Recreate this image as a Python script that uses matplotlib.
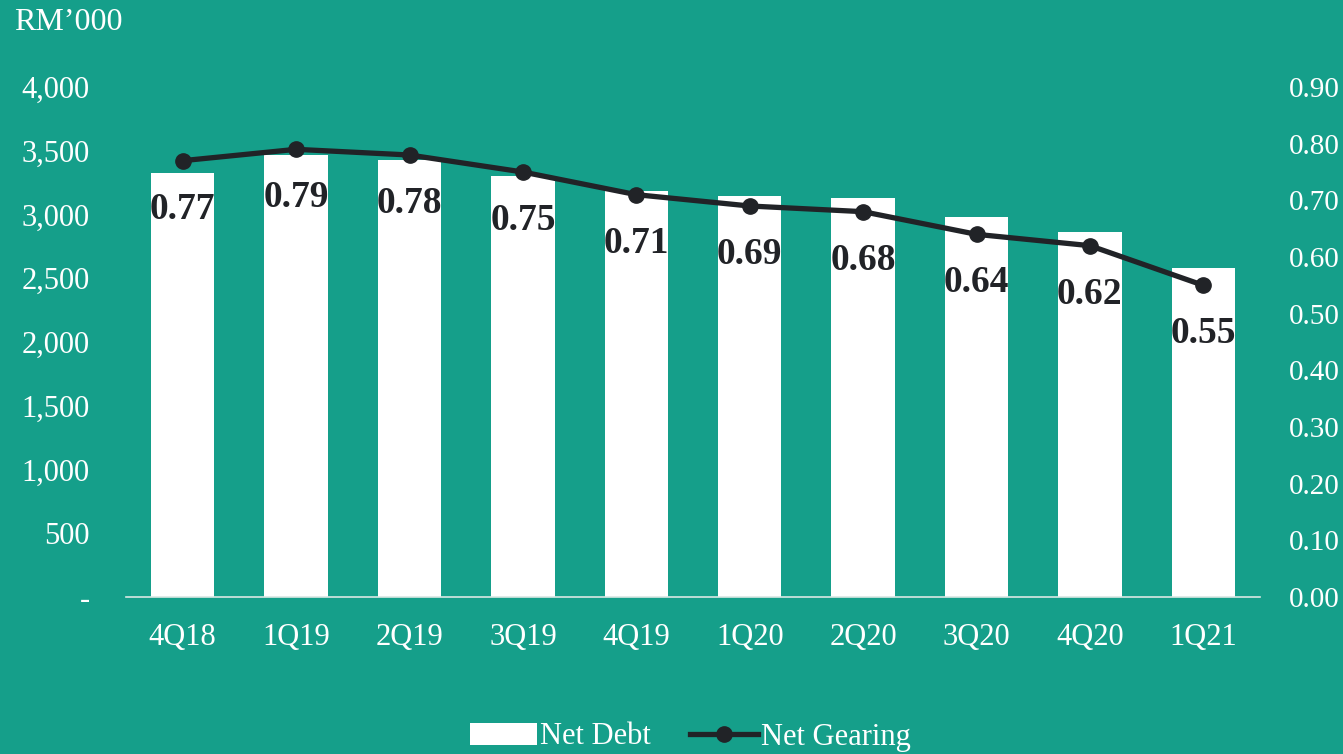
import matplotlib.pyplot as plt
import numpy as np

quarters = ['4Q18', '1Q19', '2Q19', '3Q19', '4Q19', '1Q20', '2Q20', '3Q20', '4Q20', '1Q21']
net_debt = [3325, 3467, 3427, 3302, 3184, 3145, 3129, 2980, 2863, 2580]
net_gearing = [0.77, 0.79, 0.78, 0.75, 0.71, 0.69, 0.68, 0.64, 0.62, 0.55]

bg = '#159f8a'
dark = '#212327'

plt.rcParams['font.family'] = ['Liberation Serif', 'DejaVu Serif']

fig = plt.figure(figsize=(13.43, 7.54), dpi=100, facecolor=bg)
ax = fig.add_axes([126 / 1343, 1 - 597 / 754, 1134 / 1343, 510 / 754])
ax.set_facecolor(bg)
x = np.arange(len(quarters))

bars = ax.bar(x, net_debt, width=0.56, color='white', label='Net Debt', zorder=2)
ax.set_xlim(-0.5, len(quarters) - 0.5)
ax.set_ylim(0, 4000)
ax.set_yticks(np.arange(0, 4001, 500))
ax.set_yticklabels(['-'] + [f'{v:,}' for v in range(500, 4001, 500)])
ax.set_xticks(x)
ax.set_xticklabels(quarters)
ax.tick_params(axis='y', length=0, pad=26, labelsize=22, labelcolor='white')
ax.tick_params(axis='x', length=0, pad=19, labelsize=22, labelcolor='white')
for s in ['top', 'right', 'left']:
    ax.spines[s].set_visible(False)
ax.spines['bottom'].set_color('#d9e8e4')
ax.spines['bottom'].set_linewidth(1.2)

ax2 = ax.twinx()
ax2.set_ylim(0, 0.9)
ax2.set_yticks(np.arange(0, 0.91, 0.1))
ax2.set_yticklabels([f'{v:.2f}' for v in np.arange(0, 0.91, 0.1)])
ax2.tick_params(axis='y', length=0, pad=21, labelsize=21, labelcolor='white')
for s in ax2.spines.values():
    s.set_visible(False)
line, = ax2.plot(x, net_gearing, color=dark, lw=3.8, marker='o', ms=11,
                 label='Net Gearing', zorder=3)
for xi, g in zip(x, net_gearing):
    ax2.annotate(f'{g:.2f}', (xi, g), xytext=(0, -35), textcoords='offset points',
                 ha='center', va='center', fontsize=27, fontweight='bold', color=dark)

fig.text(14 / 1343, 1 - 22 / 754, 'RM\u2019000', fontsize=23, color='white',
         ha='left', va='center')

fig.legend([bars, line], ['Net Debt', 'Net Gearing'], loc='center',
           bbox_to_anchor=(690 / 1343, 1 - 737 / 754), ncol=2, frameon=False,
           fontsize=22, labelcolor='white', handlelength=2.2, handletextpad=0.1,
           columnspacing=1.3)

fig.savefig('out.png', dpi=100, facecolor=bg)
